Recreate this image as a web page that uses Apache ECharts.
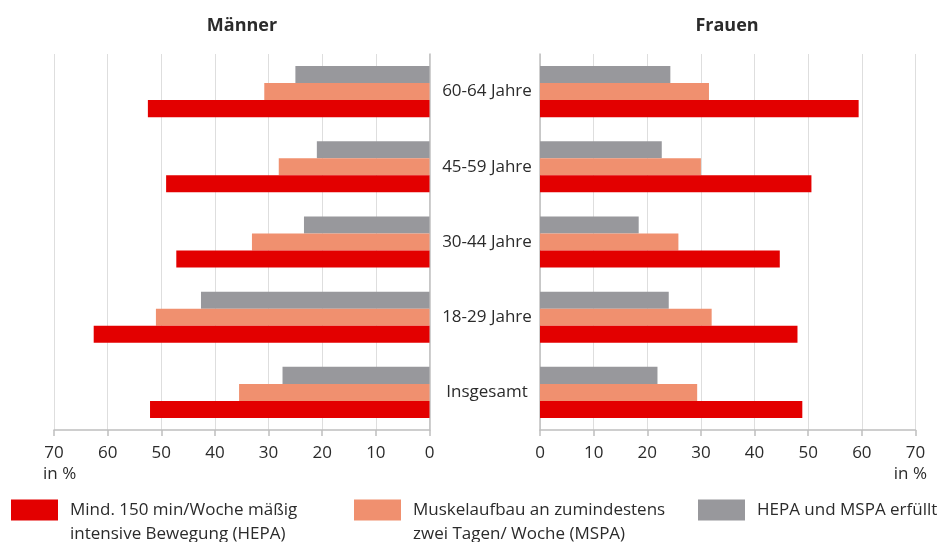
<!DOCTYPE html>
<html>
<head>
<meta charset="utf-8">
<script src="https://cdn.jsdelivr.net/npm/echarts@6/dist/echarts.min.js"></script>
<style>html,body{margin:0;padding:0;background:#fff}#c{width:947px;height:542px}</style>
</head>
<body>
<div id="c"></div>
<script>
var categories = ['Insgesamt', '18-29 Jahre', '30-44 Jahre', '45-59 Jahre', '60-64 Jahre'];
var seriesNames = ['Mind. 150 min/Woche mäßig\nintensive Bewegung (HEPA)', 'Muskelaufbau an zumindestens\nzwei Tagen/ Woche (MSPA)', 'HEPA und MSPA erfüllt'];
var maennerHEPA = [52.1, 62.6, 47.2, 49.1, 52.5];
var maennerMSPA = [35.5, 51.0, 33.1, 28.1, 30.8];
var maennerBoth = [27.4, 42.6, 23.4, 21.0, 25.0];
var frauenHEPA = [48.9, 48.0, 44.7, 50.6, 59.4];
var frauenMSPA = [29.3, 32.0, 25.8, 30.0, 31.5];
var frauenBoth = [21.9, 24.0, 18.4, 22.7, 24.3];
var xTicks = [0, 10, 20, 30, 40, 50, 60, 70];
var colors = ['#e30000', '#f0906f', '#98989c'];

var FONT = 'Open Sans';
var TXT = '#2b2b2b';
var chart = echarts.init(document.getElementById('c'));

function xAxisDef(gridIndex, inverse) {
  return {
    type: 'value', gridIndex: gridIndex, inverse: inverse,
    min: xTicks[0], max: xTicks[xTicks.length - 1], interval: xTicks[1] - xTicks[0],
    axisLine: {show: true, lineStyle: {color: '#bfbfbf', width: 1.5}},
    axisTick: {show: true, length: 6, lineStyle: {color: '#bfbfbf', width: 1.5}},
    splitLine: {show: true, lineStyle: {color: '#dedede', width: 1}},
    axisLabel: {color: TXT, fontFamily: FONT, fontSize: 17, margin: 15}
  };
}

function barSeries(name, data, idx, colorIdx) {
  return {
    type: 'bar', name: name, data: data, xAxisIndex: idx, yAxisIndex: idx,
    barGap: '0%', barCategoryGap: '32%',
    itemStyle: {color: colors[colorIdx]}
  };
}

function legendDef(left, top, name, twoLine) {
  return {
    left: left, top: top, padding: 0, orient: 'horizontal',
    data: [name], icon: 'rect', itemWidth: 47, itemHeight: 21,
    selectedMode: false,
    formatter: function (n) { return twoLine ? ' \n' + n : n; },
    textStyle: {color: TXT, fontFamily: FONT, fontSize: 17, lineHeight: 24, padding: [0, 0, 0, 7]}
  };
}

chart.setOption({
  animation: false,
  backgroundColor: '#ffffff',
  title: [
    {text: 'Männer', left: 242, top: 17, textAlign: 'center', padding: 0,
     textStyle: {fontFamily: FONT, fontSize: 18, fontWeight: 'bold', color: TXT}},
    {text: 'Frauen', left: 727, top: 17, textAlign: 'center', padding: 0,
     textStyle: {fontFamily: FONT, fontSize: 18, fontWeight: 'bold', color: TXT}}
  ],
  grid: [
    {left: 54, right: 947 - 429.5, top: 54, bottom: 112, containLabel: false},
    {left: 540, right: 947 - 915.5, top: 54, bottom: 112, containLabel: false}
  ],
  xAxis: [xAxisDef(0, true), xAxisDef(1, false)],
  yAxis: [
    {type: 'category', gridIndex: 0, data: categories, position: 'right',
     axisLine: {show: true, lineStyle: {color: '#bfbfbf', width: 1.5}},
     axisTick: {show: false}, axisLabel: {show: false}},
    {type: 'category', gridIndex: 1, data: categories, position: 'left',
     axisLine: {show: true, lineStyle: {color: '#bfbfbf', width: 1.5}},
     axisTick: {show: false},
     axisLabel: {show: true, align: 'center', margin: 53, color: TXT, fontFamily: FONT, fontSize: 17}}
  ],
  legend: [
    legendDef(11, 474, seriesNames[0], true),
    legendDef(354, 474, seriesNames[1], true),
    legendDef(698, 498, seriesNames[2], false)
  ],
  graphic: [
    {type: 'text', left: 43, top: 466, style: {text: 'in %', fill: TXT, font: '17px "Open Sans"'}},
    {type: 'text', right: 20, top: 466, style: {text: 'in %', fill: TXT, font: '17px "Open Sans"'}}
  ],
  series: [
    barSeries(seriesNames[2], maennerBoth, 0, 2),
    barSeries(seriesNames[1], maennerMSPA, 0, 1),
    barSeries(seriesNames[0], maennerHEPA, 0, 0),
    barSeries(seriesNames[2], frauenBoth, 1, 2),
    barSeries(seriesNames[1], frauenMSPA, 1, 1),
    barSeries(seriesNames[0], frauenHEPA, 1, 0)
  ]
});
</script>
</body>
</html>
